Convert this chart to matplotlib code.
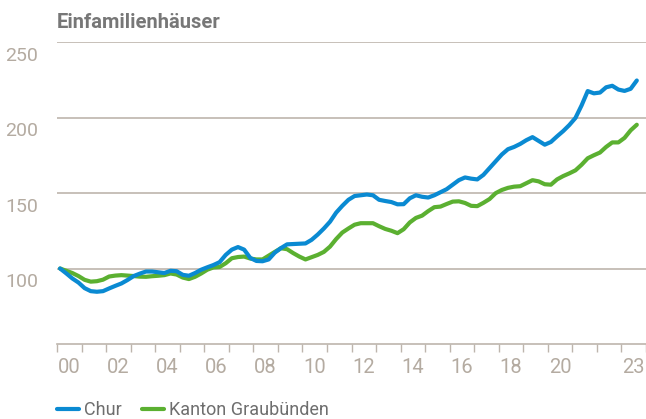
import numpy as np
import matplotlib
matplotlib.use("Agg")
import matplotlib.pyplot as plt

# =========================================
# DATA (quarterly index, 2000 Q1 = 100)
# =========================================
START_YEAR = 2000

chur = [
    100, 96.8, 93.4, 90.7, 87, 85, 84.6, 85, 86.8, 88.5,
    90.1, 92.4, 95, 96.6, 98, 98, 97.5, 97, 98.5, 98.2,
    95.8, 95.2, 97, 99.2, 100.8, 102.3, 104.2, 109, 112.5, 114.2,
    112.5, 107, 105, 104.8, 106, 110.5, 113.5, 116, 116.2, 116.4,
    116.6, 119, 122.5, 126.5, 131, 137, 141.5, 145.5, 148, 148.5,
    149, 148.5, 145.5, 144.7, 144, 142.5, 142.6, 146.5, 148.5, 147.5,
    147, 148.5, 150.5, 152.5, 155.5, 158.5, 160.3, 159.5, 159, 162,
    166.5, 171, 175.5, 179, 180.5, 182.5, 185, 187, 184.5, 182,
    183.8, 187.5, 191, 195, 199.7, 208, 217.5, 216, 216.5, 220,
    221, 218.5, 217.6, 219, 224.5,
]

graubuenden = [
    100, 98.5, 97, 95, 92.5, 91.3, 91.6, 92.6, 94.7, 95.3,
    95.6, 95.3, 95, 94.6, 94.5, 94.9, 95.2, 95.6, 96.7, 96,
    94, 93, 94.5, 96.7, 99.2, 100.7, 101, 103.5, 106.8, 107.6,
    107.9, 106.6, 106, 106, 108.5, 111, 113.4, 112.8, 110.2, 107.9,
    106, 107.5, 109, 111, 114.5, 119.5, 123.8, 126.5, 129, 130,
    130, 130, 128, 126.2, 125, 123.4, 126, 130.5, 133.5, 135,
    138, 140.6, 141, 142.7, 144.3, 144.5, 143.4, 141.5, 141.3, 143.5,
    146, 149.9, 152, 153.4, 154.2, 154.5, 156.5, 158.5, 157.7, 155.8,
    155.5, 159, 161.2, 163, 165, 168.7, 173, 175, 176.8, 180.5,
    183.5, 183.5, 186.5, 191.5, 195.2,
]

y_ticks = [100, 150, 200, 250]
x_label_years = [2000, 2002, 2004, 2006, 2008, 2010, 2012, 2014, 2016, 2018, 2020, 2023]
x_labels = ["00", "02", "04", "06", "08", "10", "12", "14", "16", "18", "20", "23"]

TITLE = "Einfamilienhäuser"
SERIES_NAMES = ["Chur", "Kanton Graubünden"]

# =========================================
# STYLE
# =========================================
BLUE = "#0a8ad2"
GREEN = "#5bb031"
GRID = "#bdb5ad"
TICK_TEXT = "#b4aba1"
TEXT = "#6e6e6e"

plt.rcParams["font.family"] = ["Roboto", "DejaVu Sans"]

# =========================================
# PLOT
# =========================================
fig = plt.figure(figsize=(6.46, 4.19), dpi=100)
ax = fig.add_axes([57 / 646, 1 - 344 / 419, 589 / 646, (344 - 42) / 419])

t = START_YEAR + (np.arange(len(chur)) + 0.5) / 4
ax.plot(t, chur, color=BLUE, lw=3, solid_capstyle="round", solid_joinstyle="round",
        label=SERIES_NAMES[0], zorder=3)
ax.plot(t[:len(graubuenden)], graubuenden, color=GREEN, lw=3, solid_capstyle="round",
        solid_joinstyle="round", label=SERIES_NAMES[1], zorder=2)

ax.set_xlim(2000, 2024)
ax.set_ylim(50, 250)

# gridlines + y labels just below them (offsets in points, 0.72 pt per px)
for v in y_ticks:
    ax.axhline(v, color=GRID, lw=1.2, zorder=1)
    ax.annotate(str(v), xy=(0, v), xycoords=("axes fraction", "data"),
                xytext=(-37.5, -3.5), textcoords="offset points",
                ha="left", va="top", fontsize=14, color=TICK_TEXT)

ax.set_yticks([])
for s in ["top", "right", "left"]:
    ax.spines[s].set_visible(False)
ax.spines["bottom"].set_color(GRID)
ax.spines["bottom"].set_linewidth(1.2)

# year ticks between labels, labels centered in the year
ax.set_xticks(np.arange(2000, 2025), minor=False)
ax.set_xticklabels([])
ax.tick_params(axis="x", which="major", direction="out", length=6, width=1, color=GRID)
ax.set_xticks([y + 0.5 for y in x_label_years], minor=True)
ax.set_xticklabels(x_labels, minor=True)
ax.tick_params(axis="x", which="minor", length=0, pad=10, labelsize=14.5,
               labelcolor=TICK_TEXT)

fig.text(57 / 646, 1 - 22 / 419, TITLE, fontsize=14.5, fontweight="bold",
         color="#777777", ha="left", va="center")

fig.legend(loc="center left", bbox_to_anchor=(50 / 646, 1 - 410 / 419), ncol=2,
           frameon=False, fontsize=13, labelcolor=TEXT, handlelength=1.2,
           handletextpad=0.3, columnspacing=1.1, borderaxespad=0)

fig.savefig("out.png", dpi=100)
